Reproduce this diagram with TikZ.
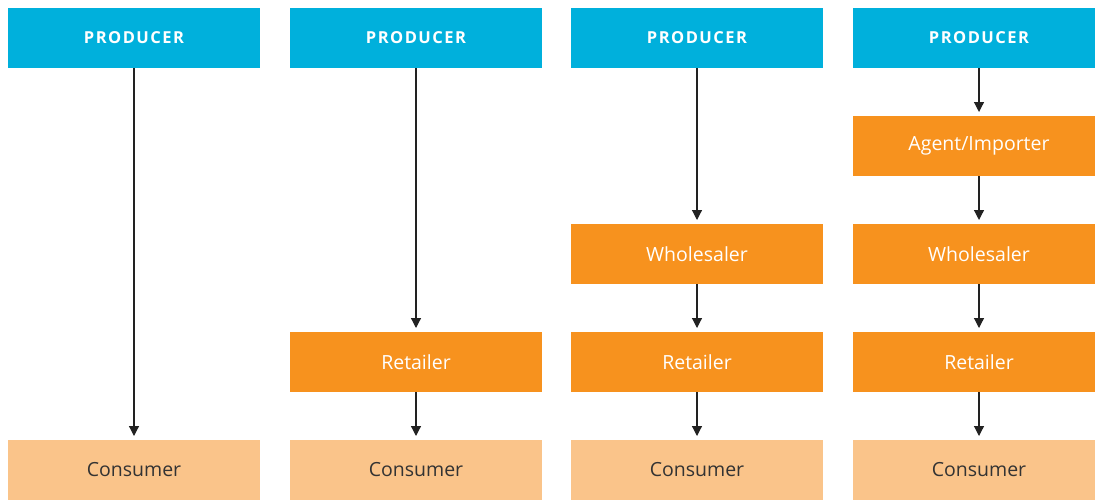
\documentclass[tikz,border=0pt]{standalone}
\usepackage{fontspec}
\setmainfont{Open Sans}
\newfontfamily\headfont[LetterSpace=9]{Open Sans}
\usepackage{tikz}
\usetikzlibrary{arrows, arrows.meta}
\usetikzlibrary{positioning}
\definecolor{prodblue}{HTML}{00B0DC}
\definecolor{midorange}{HTML}{F7921E}
\definecolor{conspeach}{HTML}{FAC48A}
\definecolor{textdark}{HTML}{333333}
\definecolor{arrowdark}{HTML}{222222}
\tikzset{
  producerbox/.style={
    fill=prodblue, text=white,
    minimum width=252pt, minimum height=60pt,
    inner sep=0pt, outer sep=0pt,
    font=\headfont\bfseries\fontsize{16.5}{20}\selectfont
  },
  middlebox/.style={
    fill=midorange, text=white,
    minimum width=252pt, minimum height=60pt,
    inner sep=0pt, outer sep=0pt,
    font=\fontsize{19.5}{23}\selectfont
  },
  consumerbox/.style={
    fill=conspeach, text=textdark,
    minimum width=252pt, minimum height=60pt,
    inner sep=0pt, outer sep=0pt,
    font=\fontsize{19.5}{23}\selectfont
  },
  flowarrow/.style={
    draw=arrowdark, line width=1.2pt,
    shorten >=4pt,
    -{Triangle[width=10pt, length=10pt]}
  }
}

\begin{document}
\begin{tikzpicture}

\useasboundingbox (0,0) rectangle (1095pt,-499pt);
\clip (0,0) rectangle (1095pt,-499pt);

% Producers
\node [producerbox] at (134pt,-38pt) (prod1) {PRODUCER};
\node [producerbox, right=30pt of prod1] (prod2) {PRODUCER};
\node [producerbox, right=29pt of prod2] (prod3) {PRODUCER};
\node [producerbox, right=30pt of prod3] (prod4) {PRODUCER};

% Column 1
\node [consumerbox, below=372pt of prod1] (cons1) {Consumer};

% Column 2
\node [middlebox, below=264pt of prod2] (ret2) {Retailer};
\node [consumerbox, below=48pt of ret2] (cons2) {Consumer};

% Column 3
\node [middlebox, below=156pt of prod3] (whole3) {Wholesaler};
\node [middlebox, below=48pt of whole3] (ret3) {Retailer};
\node [consumerbox, below=48pt of ret3] (cons3) {Consumer};

% Column 4
\node [middlebox, below=48pt of prod4] (agent4) {Agent/Importer};
\node [middlebox, below=48pt of agent4] (whole4) {Wholesaler};
\node [middlebox, below=48pt of whole4] (ret4) {Retailer};
\node [consumerbox, below=48pt of ret4] (cons4) {Consumer};

\draw[flowarrow] (prod1) -- (cons1);

\draw[flowarrow] (prod2) -- (ret2);
\draw[flowarrow] (ret2) -- (cons2);

\draw[flowarrow] (prod3) -- (whole3);
\draw[flowarrow] (whole3) -- (ret3);
\draw[flowarrow] (ret3) -- (cons3);

\draw[flowarrow] (prod4) -- (agent4);
\draw[flowarrow] (agent4) -- (whole4);
\draw[flowarrow] (whole4) -- (ret4);
\draw[flowarrow] (ret4) -- (cons4);

\end{tikzpicture}
\end{document}
